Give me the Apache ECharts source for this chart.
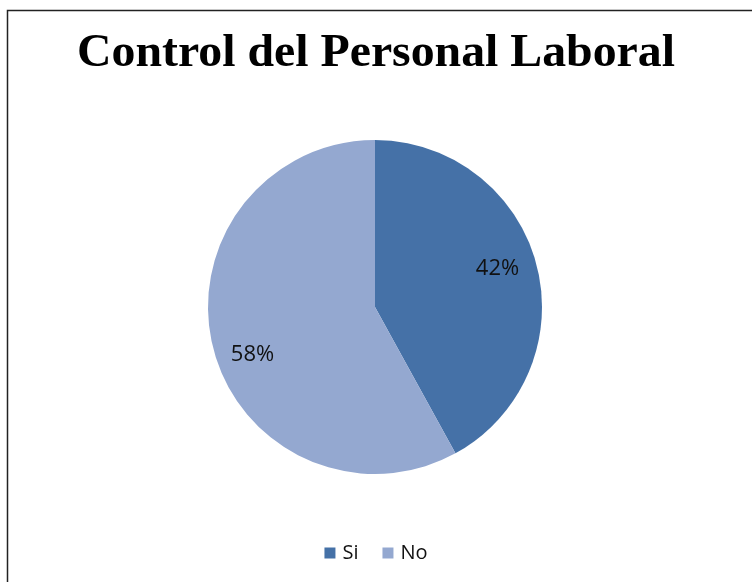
<!DOCTYPE html>
<html><head><meta charset="utf-8">
<script src="https://cdn.jsdelivr.net/npm/echarts@6/dist/echarts.min.js"></script>
<style>html,body{margin:0;padding:0;background:#fff}#c{width:752px;height:582px}</style>
</head><body><div id="c"></div>
<script>
var titleText = 'Control del Personal Laboral';
var categories = ['Si', 'No'];
var values = [42, 58];
var colors = ['#4571A7', '#94A8D0'];

var chart = echarts.init(document.getElementById('c'), null, {renderer: 'canvas'});
var titleFont = 'bold 47px "Liberation Serif"';
var ctx = document.createElement('canvas').getContext('2d');
ctx.font = titleFont;
var tw = ctx.measureText(titleText).width;
var sx = 598 / tw;

// label nudges (rich spacer above or below the text)
var labelFormats = ['{v|{c}%}\n{sp|}', '{sp2|}\n{v|{c}%}'];
var data = categories.map(function (c, i) { return {name: c, value: values[i], itemStyle: {color: colors[i]}}; });
var labelData = categories.map(function (c, i) { return {name: c, value: values[i], label: {formatter: labelFormats[i]}}; });

chart.setOption({
  animation: false,
  graphic: [
    {type: 'rect', shape: {x: 7.5, y: 10.5, width: 800, height: 700}, style: {fill: 'none', stroke: '#222', lineWidth: 1.5}, silent: true},
    {type: 'text', x: 376, y: 54, scaleX: sx, style: {text: titleText, font: titleFont, fill: '#000', textAlign: 'center', textVerticalAlign: 'middle'}}
  ],
  legend: {
    bottom: 14, left: 'center', itemWidth: 11, itemHeight: 11, itemGap: 24,
    icon: 'rect',
    textStyle: {fontFamily: 'Open Sans', fontSize: 20, color: '#111', padding: [0, 0, 0, 2]},
    data: categories.map(function (c, i) { return {name: c, itemStyle: {color: colors[i]}}; })
  },
  series: [
    {
      type: 'pie', center: [375, 307], radius: 167, startAngle: 90, clockwise: true,
      label: {show: false}, labelLine: {show: false}, silent: true,
      itemStyle: {borderWidth: 0},
      data: data
    },
    {
      type: 'pie', center: [375, 307], radius: [80, 167], startAngle: 90, clockwise: true,
      silent: true, legendHoverLink: false,
      itemStyle: {color: 'rgba(0,0,0,0)', borderWidth: 0},
      label: {
        show: true, position: 'inside', fontFamily: 'Open Sans', fontSize: 22, color: '#111',
        rich: {
          v: {fontFamily: 'Open Sans', fontSize: 22, color: '#111', height: 26, lineHeight: 26},
          sp: {height: 14, lineHeight: 14, fontSize: 1},
          sp2: {height: 32, lineHeight: 32, fontSize: 1}
        }
      },
      labelLine: {show: false},
      data: labelData
    }
  ]
});
</script></body></html>
